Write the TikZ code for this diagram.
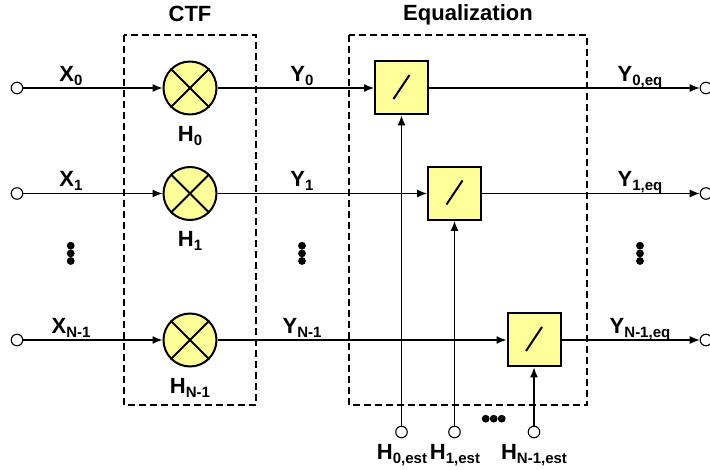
\documentclass[tikz,border=0pt]{standalone}
\usepackage{fontspec}
\setmainfont{Liberation Sans}
\usetikzlibrary{arrows.meta,calc}
\definecolor{fillY}{RGB}{255,255,153}
\newcommand{\lbl}[2]{\textbf{#1}\raisebox{-3.5pt}{\fontsize{15}{15}\selectfont\textbf{#2}}}
\tikzset{
 every node/.style={font=\fontsize{22}{24}\selectfont},
 term/.style={circle,draw,fill=white,line width=1.1pt,minimum size=11.5pt,inner sep=0pt},
 mix/.style={circle,draw,fill=fillY,line width=2pt,minimum size=53pt,inner sep=0pt},
 divbox/.style={rectangle,draw,fill=fillY,line width=2pt,minimum size=53pt,inner sep=0pt},
 wire/.style={line width=1.2pt},
 sig/.style={wire,-{Latex[length=10pt,width=8pt]}},
 frame/.style={line width=1.1pt,dash pattern=on 7pt off 4pt},
 txt/.style={inner sep=0pt,anchor=base},
 dot/.style={circle,fill=black,minimum size=7.8pt,inner sep=0pt},
}
\begin{document}
\begin{tikzpicture}[x=1pt,y=-1pt]
\useasboundingbox (0,0) rectangle (710,470);
\draw[frame] (124,35) rectangle (256,405);
\draw[frame] (349,35) rectangle (587,405);
\node[txt] (tctf) at (190,22) {\textbf{CTF}};
\node[txt] (teq) at (468,21) {\textbf{Equalization}};
\foreach \n/\y in {0/88,1/193.5,2/340}{
 \node[term] (in\n) at (17,\y) {};
 \node[term] (out\n) at (706,\y) {};
 \node[mix] (m\n) at (190,\y) {};
 \draw[line width=2pt] (m\n.45) -- (m\n.225) (m\n.135) -- (m\n.315);
}
\node[divbox] (d0) at (401.5,88) {};
\node[divbox] (d1) at (454.5,193.5) {};
\node[divbox] (d2) at (534,340) {};
\node[term] (h0) at (401.5,432) {};
\node[term] (h1) at (454.5,432) {};
\node[term] (h2) at (534,432) {};
\foreach \n in {0,1,2}{
 \draw[sig] (in\n) -- (m\n);
 \draw[sig] (m\n) -- (d\n);
 \draw[sig] (d\n) -- (out\n);
 \draw[sig] (h\n) -- (d\n);
 \draw[line width=2pt] ($(d\n)+(-8,11)$) -- ($(d\n)+(8,-13)$);
}
\node[txt] (x0) at (71,82) {\lbl{X}{0}};
\node[txt] (x1) at (71,187) {\lbl{X}{1}};
\node[txt] (x2) at (71,334) {\lbl{X}{N-1}};
\node[txt] (y0) at (302,82) {\lbl{Y}{0}};
\node[txt] (y1) at (302,187) {\lbl{Y}{1}};
\node[txt] (y2) at (302,334) {\lbl{Y}{N-1}};
\node[txt] (e0) at (640,82) {\lbl{Y}{0,eq}};
\node[txt] (e1) at (640,187) {\lbl{Y}{1,eq}};
\node[txt] (e2) at (640,334) {\lbl{Y}{N-1,eq}};
\node[txt] (c0) at (190,142) {\lbl{H}{0}};
\node[txt] (c1) at (190,247) {\lbl{H}{1}};
\node[txt] (c2) at (190,394) {\lbl{H}{N-1}};
\node[txt] (l0) at (402,460) {\lbl{H}{0,est}};
\node[txt] (l1) at (455,460) {\lbl{H}{1,est}};
\node[txt] (l2) at (534,460) {\lbl{H}{N-1,est}};
\foreach \x/\k in {70.7/a,302/b,640/c}{
 \foreach \y/\j in {245.7/1,253.4/2,261/3}{
  \node[dot] (v\k\j) at (\x,\y) {};
 }
}
\foreach \x/\j in {485.7/1,493.7/2,501.7/3}{
 \node[dot] (hd\j) at (\x,418.7) {};
}
\end{tikzpicture}
\end{document}
